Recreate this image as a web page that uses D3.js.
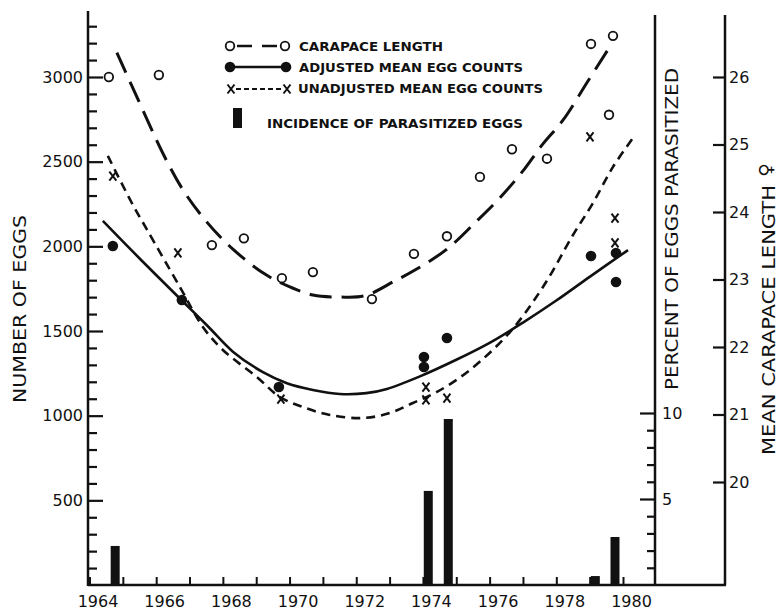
<!DOCTYPE html>
<html><head><meta charset="utf-8">
<script src="https://cdn.jsdelivr.net/npm/d3@7"></script>
<style>body{margin:0;background:#fff}svg{display:block}</style>
</head><body><svg id="c" width="781" height="613"></svg>
<script>
// ---------- data ----------
const yearTicks = d3.range(1964, 1981);
const yearLabels = [1964, 1966, 1968, 1970, 1972, 1974, 1976, 1978, 1980];
const eggTicks = d3.range(100, 3400, 100);
const eggLabels = [500, 1000, 1500, 2000, 2500, 3000];
const pctTicks = d3.range(1, 11);
const pctLabels = [5, 10];
const carTicks = [20, 21, 22, 23, 24, 25, 26];

const carapaceYears  = [1964.58, 1966.08, 1967.67, 1968.63, 1969.77, 1970.70, 1972.47, 1973.73, 1974.72, 1975.71, 1976.67, 1977.72, 1979.04, 1979.58, 1979.70];
const carapaceValues = [26.0, 26.03, 23.51, 23.61, 23.02, 23.11, 22.71, 23.38, 23.64, 24.52, 24.93, 24.79, 26.49, 25.44, 26.61];

const adjustedYears  = [1964.70, 1966.77, 1969.68, 1974.03, 1974.03, 1974.72, 1979.04, 1979.79, 1979.79];
const adjustedValues = [2002, 1683, 1169, 1346, 1287, 1459, 1943, 1961, 1789];

const unadjustedYears  = [1964.70, 1966.65, 1969.74, 1974.09, 1974.09, 1974.72, 1979.01, 1979.76, 1979.76];
const unadjustedValues = [2415, 1961, 1098, 1169, 1093, 1104, 2646, 2167, 2020];

const parasitizedYears   = [1964.77, 1974.16, 1974.76, 1979.17, 1979.76];
const parasitizedPercent = [2.27, 5.47, 9.65, 0.52, 2.79];

const carapaceFitYears  = [1964.82, 1965.60, 1966.20, 1966.80, 1967.52, 1968.30, 1969.26, 1970.01, 1970.70, 1971.51, 1972.26, 1973.16, 1973.76, 1974.72, 1975.56, 1976.25, 1976.97, 1977.60, 1978.20, 1978.95, 1979.58];
const carapaceFitValues = [26.36, 25.51, 24.87, 24.33, 23.85, 23.45, 23.08, 22.89, 22.77, 22.74, 22.76, 22.98, 23.14, 23.45, 23.84, 24.18, 24.59, 25.01, 25.36, 25.94, 26.43];

const adjustedFitYears  = [1964.40, 1965.57, 1966.77, 1967.55, 1968.30, 1969.20, 1969.92, 1970.70, 1971.51, 1972.30, 1972.92, 1973.91, 1975.00, 1976.00, 1977.00, 1978.00, 1979.00, 1980.15];
const adjustedFitValues = [2150, 1915, 1680, 1528, 1378, 1257, 1192, 1152, 1128, 1133, 1158, 1232, 1330, 1430, 1550, 1680, 1820, 1978];

const unadjustedFitYears  = [1964.55, 1965.27, 1965.72, 1966.71, 1967.40, 1968.00, 1969.02, 1969.71, 1970.40, 1971.21, 1972.20, 1973.01, 1973.70, 1974.42, 1975.41, 1976.61, 1977.60, 1978.50, 1979.10, 1979.70, 1980.30];
const unadjustedFitValues = [2534, 2256, 2100, 1760, 1524, 1388, 1228, 1110, 1051, 1004, 986, 1016, 1075, 1140, 1270, 1494, 1760, 2067, 2256, 2469, 2640];

const legendLabels = ["CARAPACE LENGTH", "ADJUSTED MEAN EGG COUNTS", "UNADJUSTED MEAN EGG COUNTS", "INCIDENCE OF PARASITIZED EGGS"];

// ---------- scales ----------
const x = d3.scaleLinear().domain([1964, 1980]).range([89.5, 623]);
const yEgg = d3.scaleLinear().domain([0, 3000]).range([585, 77]);
const yPct = d3.scaleLinear().domain([0, 10]).range([585, 413]);
const yCar = d3.scaleLinear().domain([20, 26]).range([482, 77]);

const INK = "#111";
const FONT = "'DejaVu Sans', 'Liberation Sans', sans-serif";
const svg = d3.select("#c");
svg.append("rect").attr("width", 781).attr("height", 613).attr("fill", "#fff");

const leftX = 88, pctX = 655, carX = 725, baseY = yEgg(0);

// frame lines
const frame = svg.append("g").attr("stroke", INK).attr("stroke-width", 2.5).attr("fill", "none");
frame.append("line").attr("x1", leftX).attr("x2", leftX).attr("y1", yEgg(3390)).attr("y2", baseY + 1);
frame.append("line").attr("x1", leftX).attr("x2", carX + 1).attr("y1", baseY).attr("y2", baseY);
frame.append("line").attr("x1", pctX).attr("x2", pctX).attr("y1", 15).attr("y2", baseY);
frame.append("line").attr("x1", carX).attr("x2", carX).attr("y1", 15).attr("y2", baseY);

// egg axis (left, ticks inward)
const gEgg = svg.append("g").attr("transform", `translate(${leftX},0)`)
  .call(d3.axisRight(yEgg).tickValues(eggTicks).tickSize(9).tickFormat(d => eggLabels.includes(d) ? d : ""));
gEgg.select(".domain").remove();
gEgg.selectAll(".tick line").attr("x2", d => d % 500 === 0 ? 15 : 9).attr("stroke", INK).attr("stroke-width", 2.2);
gEgg.selectAll(".tick text").attr("x", -5).attr("text-anchor", "end").attr("fill", INK)
  .style("font", `16px ${FONT}`);

// percent axis (ticks inward to the left)
const gPct = svg.append("g").attr("transform", `translate(${pctX},0)`)
  .call(d3.axisLeft(yPct).tickValues(pctTicks).tickSize(8).tickFormat(d => pctLabels.includes(d) ? d : ""));
gPct.select(".domain").remove();
gPct.selectAll(".tick line").attr("x2", d => d % 5 === 0 ? -15 : -8).attr("stroke", INK).attr("stroke-width", 2.2);
gPct.selectAll(".tick text").attr("x", 7).attr("text-anchor", "start").attr("fill", INK)
  .style("font", `16px ${FONT}`);

// carapace axis
const gCar = svg.append("g").attr("transform", `translate(${carX},0)`)
  .call(d3.axisLeft(yCar).tickValues(carTicks).tickSize(12).tickFormat(d => d));
gCar.select(".domain").remove();
gCar.selectAll(".tick line").attr("stroke", INK).attr("stroke-width", 2.2);
gCar.selectAll(".tick text").attr("x", 4).attr("text-anchor", "start").attr("fill", INK)
  .style("font", `16px ${FONT}`);

// year axis (ticks upward)
const gX = svg.append("g").attr("transform", `translate(0,${baseY})`)
  .call(d3.axisTop(x).tickValues(yearTicks).tickSize(8).tickFormat(d => yearLabels.includes(d) ? d : ""));
gX.select(".domain").remove();
gX.selectAll(".tick line").attr("stroke", INK).attr("stroke-width", 2);
gX.selectAll(".tick text").attr("y", 22).attr("dy", 0).attr("x", 8).attr("text-anchor", "middle").attr("fill", INK)
  .style("font", `16px ${FONT}`);

// axis titles
function vtitle(txt, cx, cy, len, size) {
  svg.append("text").attr("transform", `translate(${cx},${cy}) rotate(-90)`)
    .attr("text-anchor", "middle").attr("dy", "0.36em")
    .attr("textLength", len).attr("lengthAdjust", "spacingAndGlyphs")
    .attr("fill", INK).style("font", `${size}px ${FONT}`).text(txt);
}
vtitle("NUMBER OF EGGS", 20, 309, 188, 18);
vtitle("PERCENT OF EGGS PARASITIZED", 672, 229, 322, 18);
vtitle("MEAN CARAPACE LENGTH", 769, 320, 270, 18);
vtitle("\u2640", 766, 170, 14, 18);

// bars
svg.append("g").selectAll("rect").data(parasitizedYears).join("rect")
  .attr("x", (d) => x(d) - 4.5).attr("width", 9)
  .attr("y", (d, i) => yPct(parasitizedPercent[i]))
  .attr("height", (d, i) => yPct(0) - yPct(parasitizedPercent[i]))
  .attr("fill", INK);

// fitted curves
const pairs = (xs, ys) => xs.map((v, i) => [v, ys[i]]);
const curve = d3.curveCatmullRom.alpha(0.5);
svg.append("path").datum(pairs(carapaceFitYears, carapaceFitValues))
  .attr("d", d3.line().x(d => x(d[0])).y(d => yCar(d[1])).curve(curve))
  .attr("fill", "none").attr("stroke", INK).attr("stroke-width", 3).attr("stroke-dasharray", "22,10");
svg.append("path").datum(pairs(adjustedFitYears, adjustedFitValues))
  .attr("d", d3.line().x(d => x(d[0])).y(d => yEgg(d[1])).curve(curve))
  .attr("fill", "none").attr("stroke", INK).attr("stroke-width", 2.6);
svg.append("path").datum(pairs(unadjustedFitYears, unadjustedFitValues))
  .attr("d", d3.line().x(d => x(d[0])).y(d => yEgg(d[1])).curve(curve))
  .attr("fill", "none").attr("stroke", INK).attr("stroke-width", 2.6).attr("stroke-dasharray", "9,6");

// markers
function openCircle(g, cx, cy) {
  g.append("circle").attr("cx", cx).attr("cy", cy).attr("r", 4.3)
    .attr("fill", "#fff").attr("stroke", INK).attr("stroke-width", 1.8);
}
function filledCircle(g, cx, cy) {
  g.append("circle").attr("cx", cx).attr("cy", cy).attr("r", 5.3).attr("fill", INK);
}
function xMark(g, cx, cy) {
  g.append("path").attr("d", `M${cx-3.5},${cy-4.5}L${cx+3.5},${cy+4.5}M${cx+3.5},${cy-4.5}L${cx-3.5},${cy+4.5}`)
    .attr("stroke", INK).attr("stroke-width", 2).attr("fill", "none");
}
const gm = svg.append("g");
carapaceYears.forEach((yr, i) => openCircle(gm, x(yr), yCar(carapaceValues[i])));
adjustedYears.forEach((yr, i) => filledCircle(gm, x(yr), yEgg(adjustedValues[i])));
unadjustedYears.forEach((yr, i) => xMark(gm, x(yr), yEgg(unadjustedValues[i])));

// legend
const lg = svg.append("g");
const rows = [46, 67, 89, 118];
lg.append("line").attr("x1", 232).attr("x2", 283).attr("y1", rows[0]).attr("y2", rows[0])
  .attr("stroke", INK).attr("stroke-width", 2.5).attr("stroke-dasharray", "0,5,15,10,15,10");
openCircle(lg, 230, rows[0]); openCircle(lg, 285, rows[0]);
lg.append("line").attr("x1", 230).attr("x2", 286).attr("y1", rows[1]).attr("y2", rows[1])
  .attr("stroke", INK).attr("stroke-width", 2.5);
filledCircle(lg, 230, rows[1]); filledCircle(lg, 286, rows[1]);
lg.append("line").attr("x1", 236).attr("x2", 283).attr("y1", rows[2]).attr("y2", rows[2])
  .attr("stroke", INK).attr("stroke-width", 2).attr("stroke-dasharray", "5,3");
xMark(lg, 231, rows[2]); xMark(lg, 287, rows[2]);
lg.append("rect").attr("x", 233).attr("y", 108).attr("width", 9).attr("height", 20).attr("fill", INK);

const legX = [299, 299, 298, 267];
const legLen = [144, 224, 245, 256];
const legY = [46, 67, 88, 123];
legendLabels.forEach((t, i) => {
  lg.append("text").attr("x", legX[i]).attr("y", legY[i]).attr("dy", "0.36em")
    .attr("textLength", legLen[i]).attr("lengthAdjust", "spacingAndGlyphs")
    .attr("fill", INK).style("font", `bold 13px ${FONT}`).text(t);
});
</script></body></html>
